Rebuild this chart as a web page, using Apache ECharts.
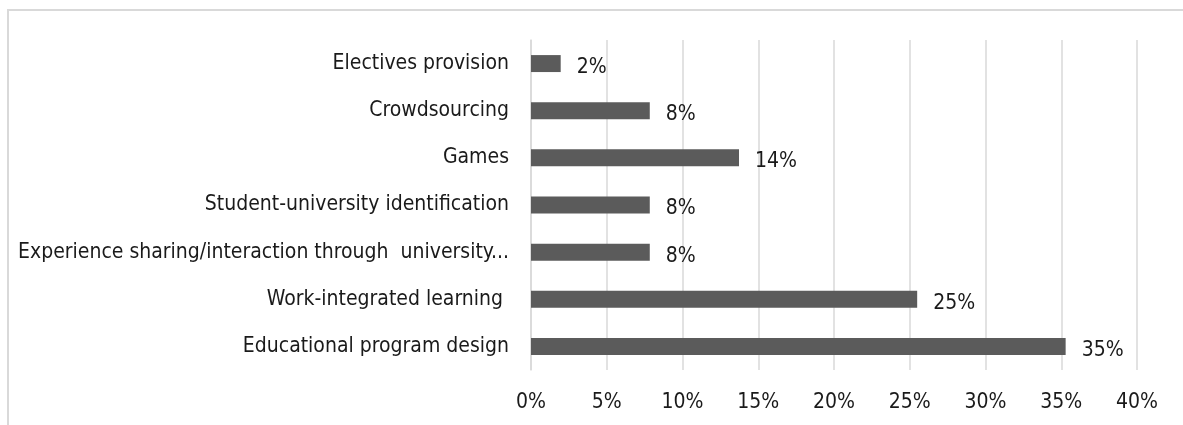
<!DOCTYPE html>
<html>
<head>
<meta charset="utf-8">
<script src="https://cdn.jsdelivr.net/npm/echarts@6/dist/echarts.min.js"></script>
<style>
  html, body { margin: 0; padding: 0; background: #fff; overflow: hidden; }
  #chart { width: 1183px; height: 425px; }
</style>
</head>
<body>
<div id="chart"></div>
<script>
// Share of studies per approach (percent), listed top to bottom
const categories = [
  'Electives provision',
  'Crowdsourcing',
  'Games',
  'Student-university identification',
  'Experience sharing/interaction through  university...',
  'Work-integrated learning ',
  'Educational program design'
];
const shares = [1.96, 7.84, 13.73, 7.84, 7.84, 25.49, 35.29];
const tickLabels = ['0%', '5%', '10%', '15%', '20%', '25%', '30%', '35%', '40%'];

const FONT = "'Liberation Sans Narrow', 'DejaVu Sans Condensed', 'Liberation Sans', sans-serif";
const TEXT_SIZE = 21;

const chart = echarts.init(document.getElementById('chart'), null, { renderer: 'canvas' });

chart.setOption({
  animation: false,
  backgroundColor: '#ffffff',
  textStyle: { fontFamily: FONT },
  // chart frame: left and top edges only
  graphic: [{
    type: 'polyline',
    silent: true,
    shape: { points: [[8, 600], [8, 10], [1400, 10]] },
    style: { fill: 'none', stroke: '#d9d9d9', lineWidth: 2 }
  }],
  grid: { left: 531, right: 46, top: 40, bottom: 55, containLabel: false },
  xAxis: {
    type: 'value',
    min: 0,
    max: 40,
    interval: 5,
    axisLine: { show: false },
    axisTick: { show: false },
    splitLine: { show: true, lineStyle: { color: '#d9d9d9', width: 1.5 } },
    axisLabel: {
      margin: 22,
      fontSize: TEXT_SIZE,
      color: '#1a1a1a',
      fontFamily: FONT,
      formatter: v => tickLabels[Math.round(v / 5)]
    }
  },
  yAxis: {
    type: 'category',
    inverse: true,
    data: categories,
    axisLine: { show: true, lineStyle: { color: '#d9d9d9', width: 1.5 } },
    axisTick: { show: false },
    axisLabel: {
      margin: 22,
      fontSize: TEXT_SIZE,
      color: '#1a1a1a',
      fontFamily: FONT
    }
  },
  series: [{
    type: 'bar',
    data: shares,
    barWidth: '36%',
    itemStyle: { color: '#5b5b5b' },
    label: {
      show: true,
      position: 'right',
      distance: 16,
      offset: [0, 4],
      fontSize: TEXT_SIZE,
      color: '#1a1a1a',
      fontFamily: FONT,
      formatter: p => Math.round(p.value) + '%'
    }
  }]
});
</script>
</body>
</html>
